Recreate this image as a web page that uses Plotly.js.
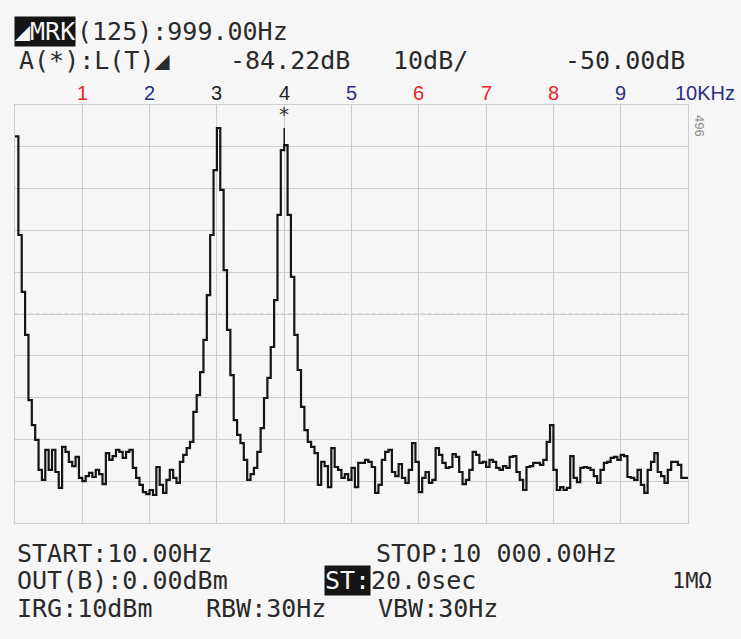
<!DOCTYPE html>
<html><head><meta charset="utf-8">
<script src="https://cdn.plot.ly/plotly-3.0.1.min.js"></script>
<style>html,body{margin:0;padding:0;background:#f6f6f6;overflow:hidden}</style>
</head><body><div id="chart" style="width:741px;height:639px"></div>
<script>
// ---- data (dB per sweep point, 50 Hz apart, 0..10 kHz) ----
const SPAN_START_HZ = 0;
const SPAN_STOP_HZ = 10000;
const levelDb = [
 -57.5,-81.1,-94.7,-105.0,-120.6,-126.6,-130.1,-137.3,-139.7,-132.5,
 -137.3,-132.5,-137.8,-141.6,-131.8,-133.0,-135.4,-136.4,-134.2,-139.2,
 -140.0,-138.8,-138.0,-139.0,-137.3,-138.3,-140.7,-133.3,-134.9,-134.0,
 -132.5,-133.0,-134.4,-133.0,-132.5,-136.8,-139.2,-140.9,-142.6,-143.1,
 -142.1,-143.3,-136.6,-140.9,-142.8,-139.7,-137.3,-139.2,-140.4,-135.4,
 -133.7,-132.1,-130.6,-123.4,-119.4,-113.9,-106.2,-95.5,-81.1,-65.6,
 -55.5,-70.3,-89.5,-103.8,-114.6,-125.4,-128.9,-130.9,-134.9,-139.7,
 -138.3,-136.8,-133.0,-127.3,-120.1,-115.3,-107.9,-96.7,-76.3,-60.8,
 -59.6,-76.3,-91.1,-105.0,-113.4,-122.2,-127.8,-130.6,-131.8,-133.3,
 -140.9,-135.4,-136.4,-141.4,-132.1,-136.6,-137.3,-139.2,-138.3,-139.7,
 -136.8,-141.4,-135.6,-135.6,-134.9,-135.4,-136.6,-142.8,-140.9,-134.9,
 -133.0,-132.5,-137.8,-138.8,-135.9,-139.2,-140.4,-137.3,-130.9,-135.4,
 -142.6,-139.2,-137.8,-140.4,-139.7,-132.1,-133.7,-135.6,-136.8,-136.6,
 -133.5,-134.2,-137.8,-140.7,-139.7,-137.3,-133.0,-133.7,-135.6,-135.4,
 -136.6,-134.9,-135.4,-136.8,-137.3,-136.4,-136.8,-134.2,-134.0,-137.8,
 -139.7,-142.1,-136.6,-136.4,-135.6,-135.6,-136.1,-134.9,-130.6,-126.6,
 -137.3,-142.1,-141.4,-142.1,-141.6,-134.0,-139.2,-140.2,-136.8,-136.6,
 -136.8,-137.3,-138.8,-140.4,-137.3,-135.6,-135.4,-134.4,-134.2,-134.9,
 -133.7,-134.0,-139.0,-139.2,-139.7,-137.3,-140.9,-142.8,-137.3,-135.4,
 -133.3,-137.8,-138.8,-140.4,-137.3,-135.4,-135.4,-136.1,-139.2,-139.2,
 -139.2
];
const MARKER_HZ = 4000;
const MARKER_TOP_DB = -55.5;
const REF_TOP_DB = -50;
const REF_BOTTOM_DB = -150;

const tickValsHz = [1000,2000,3000,4000,5000,6000,7000,8000,9000,10000];
const tickLabels = ['1','2','3','4','5','6','7','8','9','10KHz'];
const tickColors = ['#e5242b','#2c2e86','#222','#222','#2c2e86','#e5242b','#e5242b','#e5242b','#2c2e86','#2c2e86'];

const freqHz = levelDb.map((_, i) => SPAN_START_HZ + i * (SPAN_STOP_HZ - SPAN_START_HZ) / (levelDb.length - 1));

// ---- layout helpers ----
const W = 741, H = 639, ML = 15, MR = 53, MT = 105, MB = 116;
const PW = W - ML - MR, PH = H - MT - MB;
const px = p => (p - ML) / PW;
const py = p => (H - MB - p) / PH;
const MONO = 'DejaVu Sans Mono';
const TXT = '#2a2a2a';

function lcd(x, y, text, opts) {
  opts = opts || {};
  return Object.assign({
    xref: 'paper', yref: 'paper', x: px(x), y: py(y), xanchor: 'left', yanchor: 'middle',
    text: text, showarrow: false,
    font: {family: MONO, size: opts.size || 25, color: opts.color || TXT}
  }, opts.box ? {bgcolor: '#151515', borderpad: 0, font: {family: MONO, size: opts.size || 25, color: '#f4f4f4'}} : {});
}

const annotations = [
  lcd(14, 31, '◢MRK', {box: true}),
  lcd(75, 31, '(125):999.00Hz'),
  lcd(17, 60, 'A(*):L(T)◢'),
  lcd(228, 60, '-84.22dB'),
  lcd(391, 60, '10dB/'),
  lcd(563, 60, '-50.00dB'),
  lcd(15, 553, 'START:10.00Hz'),
  lcd(374, 553, 'STOP:10 000.00Hz'),
  lcd(15, 580, 'OUT(B):0.00dBm'),
  lcd(324, 580, 'ST:', {box: true}),
  lcd(369, 580, '20.0sec'),
  lcd(670, 580, '1MΩ', {size: 22}),
  lcd(15, 608, 'IRG:10dBm'),
  lcd(204, 608, 'RBW:30Hz'),
  lcd(376, 608, 'VBW:30Hz'),
  {xref: 'paper', yref: 'paper', x: px(700), y: py(126), xanchor: 'center', yanchor: 'middle',
   text: '496', textangle: 90, showarrow: false, font: {family: 'Liberation Sans', size: 13, color: '#8a8a8a'}},
  {xref: 'x', yref: 'y', x: MARKER_HZ, y: MARKER_TOP_DB, xanchor: 'center', yanchor: 'bottom',
   text: '*', showarrow: false, font: {family: MONO, size: 20, color: '#333'}}
];
tickValsHz.forEach((v, i) => {
  const last = i === tickValsHz.length - 1;
  annotations.push({
    xref: 'x', yref: 'paper', x: v, y: py(93), xanchor: last ? 'left' : 'center', yanchor: 'middle',
    xshift: last ? -15 : 0, text: tickLabels[i], showarrow: false,
    font: {family: 'Liberation Sans', size: 20, color: tickColors[i]}
  });
});

const GRID = '#cdcdcd';
const layout = {
  width: W, height: H,
  margin: {l: ML, r: MR, t: MT, b: MB, pad: 0},
  paper_bgcolor: '#f6f6f6', plot_bgcolor: '#f6f6f6',
  showlegend: false,
  xaxis: {range: [SPAN_START_HZ, SPAN_STOP_HZ], tick0: 0, dtick: 1000, showgrid: true, gridcolor: GRID, gridwidth: 1,
          showline: true, mirror: true, linecolor: GRID, linewidth: 1, zeroline: false, showticklabels: false, ticks: '', fixedrange: true},
  yaxis: {range: [REF_BOTTOM_DB, REF_TOP_DB], tick0: REF_BOTTOM_DB, dtick: 10, showgrid: true, gridcolor: GRID, gridwidth: 1,
          showline: true, mirror: true, linecolor: GRID, linewidth: 1, zeroline: false, showticklabels: false, ticks: '', fixedrange: true},
  shapes: [
    {type: 'line', xref: 'x', yref: 'paper', x0: (SPAN_START_HZ + SPAN_STOP_HZ) / 2, x1: (SPAN_START_HZ + SPAN_STOP_HZ) / 2, y0: 0, y1: 1,
     line: {color: '#bdbdbd', width: 1, dash: '4px,3px'}, layer: 'below'},
    {type: 'line', xref: 'paper', yref: 'y', x0: 0, x1: 1, y0: (REF_TOP_DB + REF_BOTTOM_DB) / 2, y1: (REF_TOP_DB + REF_BOTTOM_DB) / 2,
     line: {color: '#bdbdbd', width: 1, dash: '4px,3px'}, layer: 'below'}
  ],
  annotations: annotations
};

const traces = [
  {x: freqHz, y: levelDb, type: 'scatter', mode: 'lines', line: {color: '#151515', width: 2.2, shape: 'hv'}, hoverinfo: 'skip'},
  {x: [MARKER_HZ, MARKER_HZ], y: [levelDb[Math.round(MARKER_HZ / 50)], MARKER_TOP_DB], type: 'scatter', mode: 'lines',
   line: {color: '#151515', width: 1.5}, hoverinfo: 'skip'}
];

Plotly.newPlot('chart', traces, layout, {staticPlot: true, displayModeBar: false});
</script></body></html>
